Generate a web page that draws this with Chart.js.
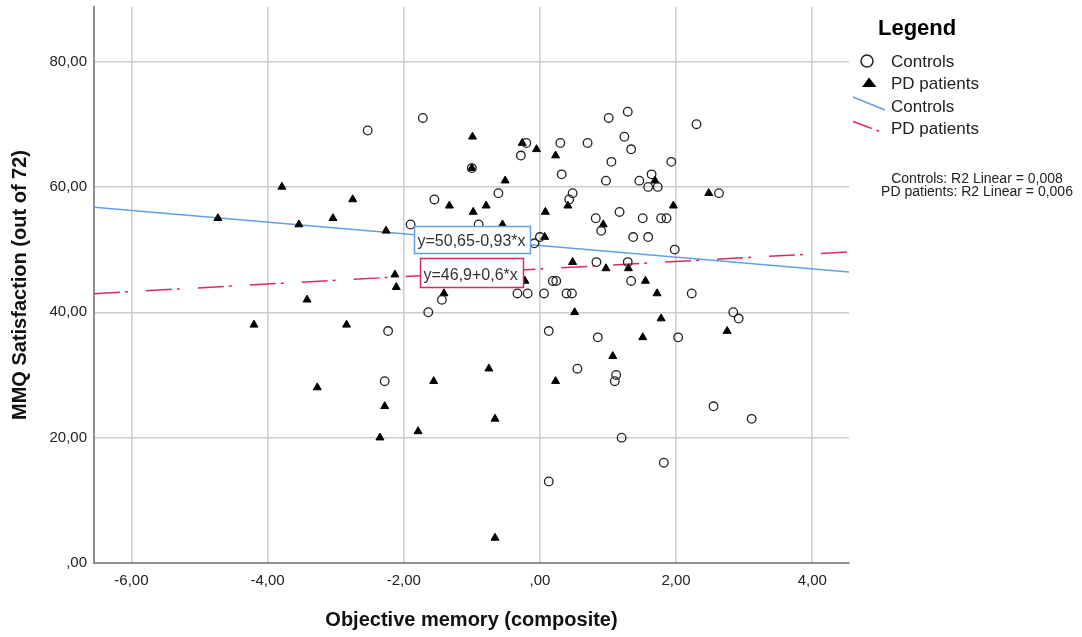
<!DOCTYPE html>
<html>
<head>
<meta charset="utf-8">
<script src="https://cdn.jsdelivr.net/npm/chart.js@4.4.1/dist/chart.umd.min.js"></script>
<style>
  body { margin: 0; background: #fff; }
  canvas { display: block; }
</style>
</head>
<body>
<canvas id="chart" width="1082" height="637"></canvas>
<script>
// objective memory (x) and MMQ satisfaction (y)
const controlsX = [-2.53, -1.72, -0.20, -0.28, 0.30, 0.70, 0.32, -1.00, -0.61, 0.48, 0.43, -1.55, -1.90, -0.90, 0.00, -0.08, 0.82, 0.90, 0.83, 1.01, 1.29, 1.24, 1.34, 1.05, 0.97, 1.46, 1.64, 1.59, 1.73, 1.93, 2.30, 1.17, 1.51, 1.78, 1.86, 1.37, 1.59, 1.98, 1.29, 0.24, 0.19, 1.34, 2.63, 2.23, -0.33, -0.18, 0.06, 0.39, 0.47, 0.13, 0.85, 0.55, 1.12, 1.10, -1.44, -1.64, -2.23, -2.28, 0.13, 2.84, 2.92, 2.03, 2.55, 3.11, 1.20, 1.82];
const controlsY = [69, 71, 67, 65, 67, 67, 62, 63, 59, 59, 58, 58, 54, 54, 52, 51, 55, 53, 48, 71, 72, 68, 66, 64, 61, 61, 62, 60, 60, 64, 70, 56, 55, 55, 55, 52, 52, 50, 48, 45, 45, 45, 59, 43, 43, 43, 43, 43, 43, 37, 36, 31, 30, 29, 42, 40, 37, 29, 13, 40, 39, 36, 25, 23, 20, 16];

const pdX = [-4.73, -3.79, -3.54, -3.04, -2.75, -2.26, -1.33, -0.98, -0.79, -0.99, -1.00, -0.51, -0.26, -0.05, 0.23, 0.08, 0.41, -0.55, 0.07, 0.48, -2.13, -2.11, -0.22, 1.69, 2.48, 1.96, 0.93, 0.97, 1.30, 1.55, 0.51, 1.72, 1.78, 1.51, 1.07, -0.75, 0.23, 2.75, -3.42, -4.20, -2.84, -3.27, -1.41, -1.56, -2.28, -0.66, -1.79, -2.35, -0.66];
const pdY = [55, 60, 54, 55, 58, 53, 57, 56, 57, 68, 63, 61, 67, 66, 65, 56, 57, 54, 52, 48, 46, 44, 45, 61, 59, 57, 54, 47, 47, 45, 40, 43, 39, 36, 33, 31, 29, 37, 42, 38, 38, 28, 43, 29, 25, 23, 21, 20, 4];

// fitted lines (intercept, slope) and R2 from the output
const controlsFit = [50.65, -0.93];
const pdFit = [46.9, 0.6];
const r2Labels = ['Controls: R2 Linear = 0,008', 'PD patients: R2 Linear = 0,006'];

const xMin = -6.55, xMax = 4.54;
const yMin = 0, yMax = 88.7;

const FONT = '"Liberation Sans", Arial, sans-serif';
const BLUE = '#629fe6';
const RED = '#dc2a5c';
const DASHDOT = [26, 5, 3, 18];

// SPSS style numbers: 80,00  ,00  -6,00
function fmt(v) {
  let s = Math.abs(v).toFixed(2).replace('.', ',');
  if (s.startsWith('0')) s = s.slice(1);
  return (v < 0 ? '-' : '') + s;
}

const pts = (xs, ys) => xs.map((x, i) => ({x: x, y: ys[i]}));
const fitLine = f => [{x: xMin, y: f[0] + f[1] * xMin}, {x: xMax, y: f[0] + f[1] * xMax}];

// equation boxes, legend and R2 notes
const overlay = {
  id: 'overlay',
  afterDatasetsDraw(chart) {
    const ctx = chart.ctx;
    ctx.save();
    ctx.font = '16px ' + FONT;
    ctx.textBaseline = 'alphabetic';
    const box = (x, y, w, h, color, text) => {
      ctx.fillStyle = '#fff';
      ctx.fillRect(x, y, w, h);
      ctx.strokeStyle = color;
      ctx.lineWidth = 1.5;
      ctx.strokeRect(x, y, w, h);
      ctx.fillStyle = '#333';
      ctx.fillText(text, x + 3, y + h - 8);
    };
    box(414.5, 226.5, 116, 27, BLUE, 'y=50,65-0,93*x');
    box(420.5, 258.5, 103, 29, RED, 'y=46,9+0,6*x');
    ctx.restore();
  },
  afterDraw(chart) {
    const ctx = chart.ctx;
    ctx.save();
    ctx.fillStyle = '#000';
    ctx.font = 'bold 22px ' + FONT;
    ctx.fillText('Legend', 878, 35);

    ctx.font = '17px ' + FONT;
    ctx.fillStyle = '#222';
    ctx.fillText('Controls', 891, 67);
    ctx.fillText('PD patients', 891, 88.5);
    ctx.fillText('Controls', 891, 112);
    ctx.fillText('PD patients', 891, 133.5);

    ctx.strokeStyle = '#222';
    ctx.lineWidth = 1.5;
    ctx.beginPath();
    ctx.arc(867, 61, 6, 0, Math.PI * 2);
    ctx.stroke();

    ctx.fillStyle = '#000';
    ctx.beginPath();
    ctx.moveTo(862, 87);
    ctx.lineTo(876.5, 87);
    ctx.lineTo(869, 77.5);
    ctx.closePath();
    ctx.fill();

    ctx.strokeStyle = BLUE;
    ctx.beginPath();
    ctx.moveTo(853, 97);
    ctx.lineTo(885, 110);
    ctx.stroke();

    ctx.strokeStyle = RED;
    ctx.setLineDash([20, 5, 3, 10]);
    ctx.beginPath();
    ctx.moveTo(853, 121.5);
    ctx.lineTo(880, 131.5);
    ctx.stroke();
    ctx.setLineDash([]);

    ctx.fillStyle = '#222';
    ctx.font = '14px ' + FONT;
    ctx.textAlign = 'center';
    ctx.fillText(r2Labels[0], 977, 183);
    ctx.fillText(r2Labels[1], 977, 196);
    ctx.restore();
  }
};

// keep the plot edges where the reference has them
const noEdgePad = s => { s.paddingTop = 0; s.paddingBottom = 0; s.paddingLeft = 0; s.paddingRight = 0; };

new Chart(document.getElementById('chart'), {
  type: 'scatter',
  data: {
    datasets: [
      {
        label: 'Controls',
        data: pts(controlsX, controlsY),
        pointStyle: 'circle',
        pointRadius: 4.3,
        backgroundColor: 'rgba(0,0,0,0)',
        borderColor: '#222',
        borderWidth: 1.3
      },
      {
        label: 'PD patients',
        data: pts(pdX, pdY),
        pointStyle: 'triangle',
        pointRadius: 4.6,
        backgroundColor: '#000',
        borderColor: '#000',
        borderWidth: 1
      },
      {
        label: 'Controls fit',
        data: fitLine(controlsFit),
        showLine: true,
        pointRadius: 0,
        borderColor: BLUE,
        borderWidth: 1.5
      },
      {
        label: 'PD patients fit',
        data: fitLine(pdFit),
        showLine: true,
        pointRadius: 0,
        borderColor: RED,
        borderWidth: 1.5,
        borderDash: DASHDOT
      }
    ]
  },
  options: {
    responsive: false,
    animation: false,
    events: [],
    layout: { padding: { top: 7, right: 233, left: 0, bottom: 0 } },
    plugins: {
      legend: { display: false },
      tooltip: { enabled: false }
    },
    scales: {
      x: {
        type: 'linear',
        min: xMin,
        max: xMax,
        afterFit: s => { s.height = 74; noEdgePad(s); },
        grid: { color: '#cdcdcd', lineWidth: 1.5, drawTicks: false },
        border: { color: '#8e8e8e', width: 2 },
        ticks: {
          stepSize: 2,
          includeBounds: false,
          padding: 9,
          color: '#222',
          font: { family: FONT, size: 15 },
          callback: v => fmt(v)
        },
        title: {
          display: true,
          text: 'Objective memory (composite)',
          color: '#111',
          font: { family: FONT, size: 20, weight: 'bold' },
          padding: { top: 0, bottom: 5 }
        }
      },
      y: {
        type: 'linear',
        min: yMin,
        max: yMax,
        afterFit: s => { s.width = 94; noEdgePad(s); },
        grid: { color: '#cdcdcd', lineWidth: 1.5, drawTicks: false },
        border: { color: '#8e8e8e', width: 2 },
        ticks: {
          stepSize: 20,
          includeBounds: false,
          padding: 7,
          color: '#222',
          font: { family: FONT, size: 15 },
          callback: v => fmt(v)
        },
        title: {
          display: true,
          text: 'MMQ Satisfaction (out of 72)',
          color: '#111',
          font: { family: FONT, size: 20, weight: 'bold' },
          padding: { top: 8, bottom: 0 }
        }
      }
    }
  },
  plugins: [overlay]
});
</script>
</body>
</html>
